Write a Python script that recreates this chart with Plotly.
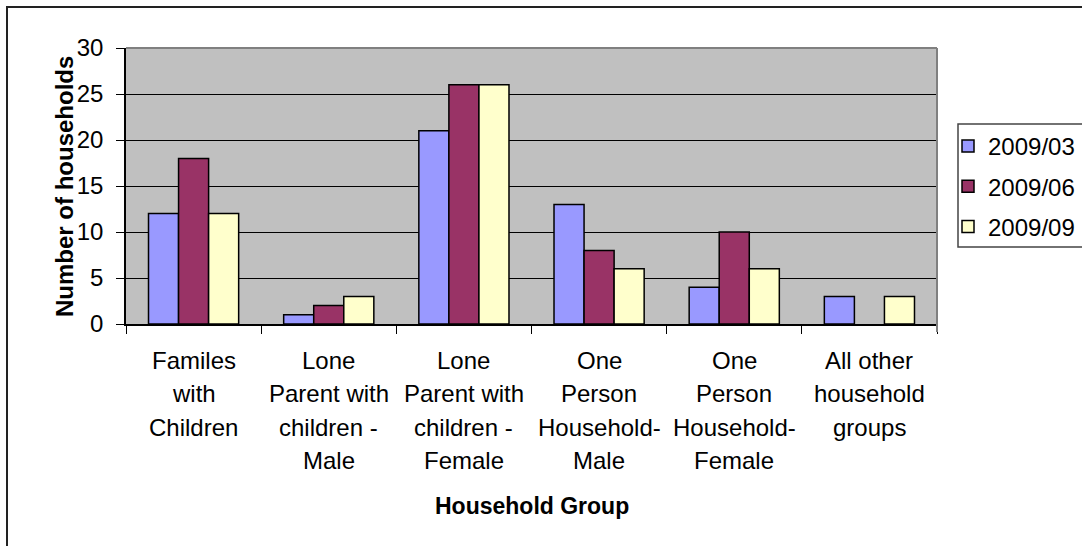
import plotly.graph_objects as go

categories = [
    "Familes with Children",
    "Lone Parent with children - Male",
    "Lone Parent with children - Female",
    "One Person Household- Male",
    "One Person Household- Female",
    "All other household groups",
]
category_lines = [
    ["Familes", "with", "Children"],
    ["Lone", "Parent with", "children -", "Male"],
    ["Lone", "Parent with", "children -", "Female"],
    ["One", "Person", "Household-", "Male"],
    ["One", "Person", "Household-", "Female"],
    ["All other", "household", "groups"],
]
series_names = ["2009/03", "2009/06", "2009/09"]
values_2009_03 = [12, 1, 21, 13, 4, 3]
values_2009_06 = [18, 2, 26, 8, 10, None]
values_2009_09 = [12, 3, 26, 6, 6, 3]
series_colors = ["#9999FF", "#993366", "#FFFFCC"]
y_ticks = [0, 5, 10, 15, 20, 25, 30]

FONT = "Liberation Sans, Arial, sans-serif"
W, H = 1082, 546
L, R, T, B = 126, 145, 48, 222
PW, PH = W - L - R, H - T - B


def px_x(px):
    return (px - L) / PW


def px_y(py):
    return (H - B - py) / PH


fig = go.Figure()
for name, vals, col in zip(series_names,
                           [values_2009_03, values_2009_06, values_2009_09],
                           series_colors):
    fig.add_trace(go.Bar(
        name=name, x=categories, y=vals, legendgroup=name,
        marker=dict(color=col, line=dict(color="black", width=1.5)),
    ))

annotations = []
# multi-line category labels under the axis
line_gap = 33.5
for cat, lines in zip(categories, category_lines):
    for i, txt in enumerate(lines):
        annotations.append(dict(
            x=cat, xref="x", y=0, yref="paper", yanchor="middle",
            yshift=-(36 + i * line_gap), text=txt, showarrow=False,
            font=dict(family=FONT, size=24, color="black"),
        ))
annotations.append(dict(
    x=0.5, xref="paper", y=px_y(506), yref="paper", text="<b>Household Group</b>",
    showarrow=False, xanchor="center", yanchor="middle",
    font=dict(family=FONT, size=23, color="black"),
))
annotations.append(dict(
    x=px_x(64), xref="paper", y=px_y(187), yref="paper",
    text="<b>Number of households</b>", textangle=-90, showarrow=False,
    xanchor="center", yanchor="middle",
    font=dict(family=FONT, size=24, color="black"),
))

shapes = [
    # chart frame
    dict(type="rect", xref="paper", yref="paper",
         x0=px_x(7), x1=px_x(1095), y0=px_y(560), y1=px_y(7),
         line=dict(color="#222", width=2), layer="below"),
    # legend frame
    dict(type="rect", xref="paper", yref="paper",
         x0=px_x(958), x1=px_x(1095), y0=px_y(247), y1=px_y(124),
         line=dict(color="#444", width=1.5), fillcolor="white", layer="below"),
    # plot area top and right edges
    dict(type="line", xref="paper", yref="paper", x0=0, x1=1, y0=1, y1=1,
         line=dict(color="#808080", width=2), layer="above"),
    dict(type="line", xref="paper", yref="paper", x0=1, x1=1, y0=px_y(332), y1=1,
         line=dict(color="#808080", width=2), layer="above"),
]

fig.update_layout(
    width=W, height=H,
    margin=dict(l=L, r=R, t=T, b=B, autoexpand=False),
    paper_bgcolor="white", plot_bgcolor="#C0C0C0",
    barmode="group", bargap=0.333, bargroupgap=0,
    font=dict(family=FONT, size=24, color="black"),
    showlegend=True,
    legend=dict(
        x=px_x(948), y=px_y(124), xanchor="left", yanchor="top",
        bgcolor="rgba(0,0,0,0)", borderwidth=0,
        font=dict(family=FONT, size=24, color="black"),
        traceorder="grouped", tracegroupgap=6, itemwidth=30,
    ),
    annotations=annotations,
    shapes=shapes,
)
fig.update_xaxes(
    showticklabels=False, ticks="outside", tickson="boundaries", ticklen=8,
    tickcolor="black", showline=True, linecolor="black", linewidth=1.5,
    showgrid=False, zeroline=False,
)
fig.update_yaxes(
    range=[0, 30], tickvals=y_ticks, ticks="outside", ticklen=8,
    tickcolor="black", showline=True, linecolor="black", linewidth=1.5,
    showgrid=True, gridcolor="black", gridwidth=1, zeroline=False,
    ticklabelstandoff=8,
    tickfont=dict(family=FONT, size=24, color="black"),
)

fig.write_html("out.html")
